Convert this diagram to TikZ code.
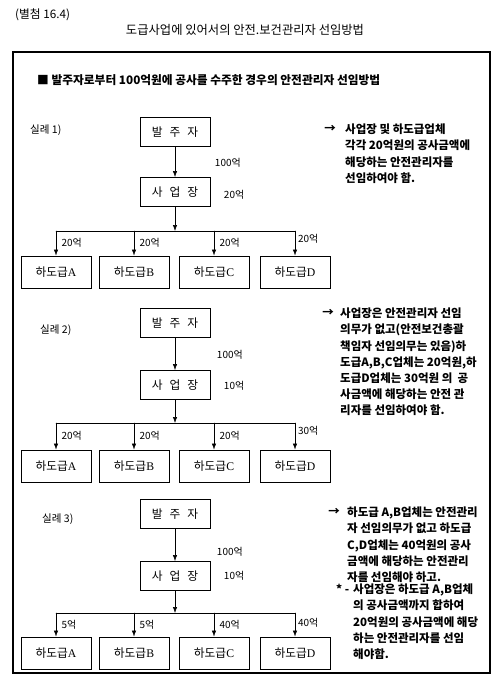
\documentclass[tikz,border=0pt]{standalone}
\usepackage{fontspec}
\setmainfont{Noto Sans CJK KR}
\newfontfamily\romfont{Liberation Serif}
\usetikzlibrary{arrows.meta}

\begin{document}
\begin{tikzpicture}[x=0.03cm,y=-0.03cm,>={Latex[length=5pt,width=3.6pt]},line cap=round,
  box/.style={draw,line width=0.8pt,minimum width=2.1cm,minimum height=0.96cm,inner sep=0pt,font=\fontsize{10}{12}\selectfont},
  topbox/.style={box,minimum height=0.87cm},
  amt/.style={font=\fontsize{8.5}{10}\selectfont,inner sep=1.5pt},
  tag/.style={font=\fontsize{9}{11}\selectfont,inner sep=0pt},
  note/.style={font=\bfseries\fontsize{9.8}{13.7}\selectfont,align=left,inner sep=0pt}]
\useasboundingbox (0,0) rectangle (500,683);
\node[anchor=west,inner sep=0pt,font=\fontsize{10}{12}\selectfont] (annex) at (15,15) {(별첨 16.4)};
\node[font=\fontsize{10.5}{12}\selectfont] (title) at (245,30) {도급사업에 있어서의 안전.보건관리자 선임방법};
\draw[line width=0.9pt] (13,52) rectangle (490,673);
\node[anchor=west,inner sep=0pt,font=\bfseries\fontsize{10}{12}\selectfont] (head) at (37,80) {■ 발주자로부터 100억원에 공사를 수주한 경우의 안전관리자 선임방법};

% case 1
\node[tag,anchor=west] (case1) at (30,130) {실례 1)};
\node[topbox] (own1) at (175,132) {발\hspace{.6em}주\hspace{.6em}자};
\node[topbox] (site1) at (175,192) {사\hspace{.6em}업\hspace{.6em}장};
\coordinate (bus1) at (175,231);
\node[box] (subA1) at (56,272) {하도급{\romfont A}};
\node[box] (subB1) at (134,272) {하도급{\romfont B}};
\node[box] (subC1) at (214,272) {하도급{\romfont C}};
\node[box] (subD1) at (295,272) {하도급{\romfont D}};
\draw[->] (own1) -- (site1);
\node[amt,anchor=west] (amtO1) at (213,163) {100억};
\node[amt,anchor=west] (amtS1) at (222,195) {20억};
\draw[->] (site1) -- (bus1);
\draw (subA1.north |- bus1) -- (subD1.north |- bus1);
\draw[->] (subA1.north |- bus1) -- (subA1) node[amt,midway,right=3pt]{20억};
\draw[->] (subB1.north |- bus1) -- (subB1) node[amt,midway,right=3pt]{20억};
\draw[->] (subC1.north |- bus1) -- (subC1) node[amt,midway,right=3pt]{20억};
\draw[->] (subD1.north |- bus1) -- (subD1) node[amt,pos=.3,right=1pt]{20억};
\node[note] (arr1) at (330,129) {→};
\node[note,anchor=north west] (note1) at (345,124) {사업장 및 하도급업체\\각각 20억원의 공사금액에\\해당하는 안전관리자를\\선임하여야 함.};

% case 2
\node[tag,anchor=west] (case2) at (40,330) {실례 2)};
\node[topbox] (own2) at (175,323) {발\hspace{.6em}주\hspace{.6em}자};
\node[topbox] (site2) at (175,385) {사\hspace{.6em}업\hspace{.6em}장};
\coordinate (bus2) at (175,423);
\node[box] (subA2) at (56,466) {하도급{\romfont A}};
\node[box] (subB2) at (134,466) {하도급{\romfont B}};
\node[box] (subC2) at (214,466) {하도급{\romfont C}};
\node[box] (subD2) at (295,466) {하도급{\romfont D}};
\draw[->] (own2) -- (site2);
\node[amt,anchor=west] (amtO2) at (215,355) {100억};
\node[amt,anchor=west] (amtS2) at (222,386) {10억};
\draw[->] (site2) -- (bus2);
\draw (subA2.north |- bus2) -- (subD2.north |- bus2);
\draw[->] (subA2.north |- bus2) -- (subA2) node[amt,midway,right=3pt]{20억};
\draw[->] (subB2.north |- bus2) -- (subB2) node[amt,midway,right=3pt]{20억};
\draw[->] (subC2.north |- bus2) -- (subC2) node[amt,midway,right=3pt]{20억};
\draw[->] (subD2.north |- bus2) -- (subD2) node[amt,pos=.3,right=1pt]{30억};
\node[note] (arr2) at (328,313) {→};
\node[note,anchor=north west] (note2) at (340,308) {사업장은 안전관리자 선임\\의무가 없고(안전보건총괄\\책임자 선임의무는 있음)하\\도급A,B,C업체는 20억원,하\\도급D업체는 30억원 의\ \ 공\\사금액에 해당하는 안전 관\\리자를 선임하여야 함.};

% case 3
\node[tag,anchor=west] (case3) at (42,519) {실례 3)};
\node[topbox] (own3) at (175,514) {발\hspace{.6em}주\hspace{.6em}자};
\node[topbox] (site3) at (175,576) {사\hspace{.6em}업\hspace{.6em}장};
\coordinate (bus3) at (175,613);
\node[box] (subA3) at (56,653) {하도급{\romfont A}};
\node[box] (subB3) at (134,653) {하도급{\romfont B}};
\node[box] (subC3) at (214,653) {하도급{\romfont C}};
\node[box] (subD3) at (295,653) {하도급{\romfont D}};
\draw[->] (own3) -- (site3);
\node[amt,anchor=west] (amtO3) at (215,552) {100억};
\node[amt,anchor=west] (amtS3) at (222,576) {10억};
\draw[->] (site3) -- (bus3);
\draw (subA3.north |- bus3) -- (subD3.north |- bus3);
\draw[->] (subA3.north |- bus3) -- (subA3) node[amt,midway,right=3pt]{5억};
\draw[->] (subB3.north |- bus3) -- (subB3) node[amt,midway,right=3pt]{5억};
\draw[->] (subC3.north |- bus3) -- (subC3) node[amt,midway,right=3pt]{40억};
\draw[->] (subD3.north |- bus3) -- (subD3) node[amt,pos=.4,right=1pt]{40억};
\node[note] (arr3) at (334,512) {→};
\node[note,anchor=north west] (note3) at (347,507) {하도급 A,B업체는 안전관리\\자 선임의무가 없고 하도급\\C,D업체는 40억원의 공사\\금액에 해당하는 안전관리\\자를 선임해야 하고.};
\node[note,anchor=west] (star3) at (336,589) {*~-};
\node[note,anchor=north west] (note3b) at (353,584) {사업장은 하도급 A,B업체\\의 공사금액까지 합하여\\20억원의 공사금액에 해당\\하는 안전관리자를 선임\\해야함.};
\end{tikzpicture}
\end{document}
